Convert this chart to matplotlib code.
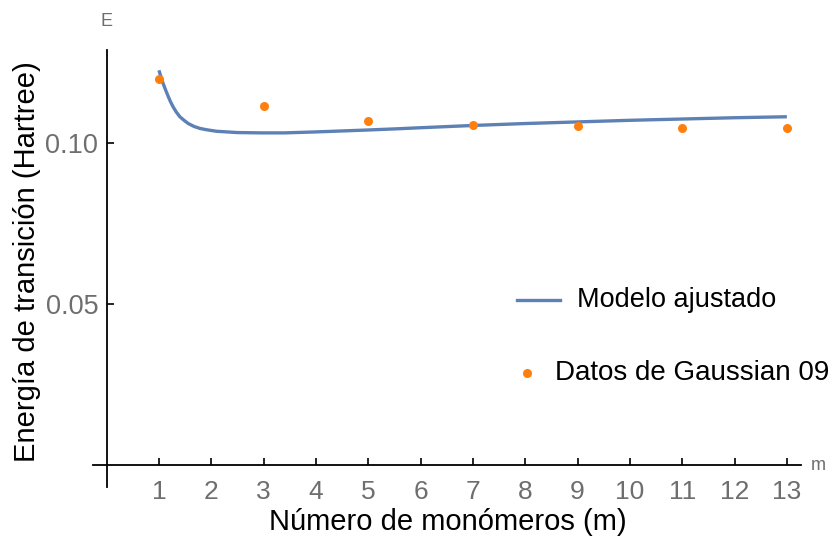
import numpy as np
import matplotlib.pyplot as plt
from matplotlib.lines import Line2D

plt.rcParams['font.family'] = ['Liberation Sans', 'DejaVu Sans']

# datos de Gaussian 09
m_datos = [1, 3, 5, 7, 9, 11, 13]
e_datos = [0.1197, 0.1114, 0.1068, 0.1055, 0.1050, 0.1044, 0.1044]

# modelo ajustado
m_modelo = [1.0, 1.04, 1.08, 1.13, 1.18, 1.22, 1.27, 1.33, 1.4, 1.48, 1.56,
            1.67, 1.78, 1.9, 2.1, 2.3, 2.5, 2.95, 3.4, 4.0, 5.0, 5.6, 6.0,
            7.0, 8.0, 9.0, 10.0, 11.0, 12.0, 13.0]
e_modelo = [0.1224, 0.1203, 0.1183, 0.1162, 0.1142, 0.1127, 0.1111, 0.1095,
            0.1080, 0.1069, 0.1059, 0.1050, 0.1044, 0.1040, 0.1035, 0.1033,
            0.1031, 0.1030, 0.1030, 0.1033, 0.1039, 0.1043, 0.1046, 0.1053,
            0.1059, 0.1064, 0.1069, 0.1073, 0.1077, 0.1080]

xticks = list(range(1, 14))
yticks = [0.05, 0.10]
ytick_labels = ["0.05", "0.10"]

W, H = 838, 540
azul = "#5E81B5"
naranja = "#FF7F0E"
gris = "#6E6E6E"

fig = plt.figure(figsize=(W / 100, H / 100), dpi=100)
ax = fig.add_axes([93 / W, 1 - 487 / H, (801 - 93) / W, (487 - 50) / H])

ax.plot(m_modelo, e_modelo, color=azul, lw=2.4, solid_capstyle='butt',
        solid_joinstyle='round', zorder=2)
ax.plot(m_datos, e_datos, 'o', color=naranja, ms=6.5, mec='none', zorder=3)

ax.set_xlim(-0.26, 13.27)
ax.set_ylim(-0.0068, 0.1287)

for s in ['top', 'right']:
    ax.spines[s].set_visible(False)
ax.spines['left'].set_position(('data', 0))
ax.spines['bottom'].set_position(('data', 0))
ax.spines['left'].set_linewidth(1.3)
ax.spines['bottom'].set_linewidth(1.3)

ax.set_xticks(xticks)
ax.set_xticklabels([str(t) for t in xticks])
ax.set_yticks(yticks)
ax.set_yticklabels(ytick_labels)
ax.tick_params(axis='x', direction='in', length=5, width=1.2, pad=11,
               labelsize=19, labelcolor=gris)
ax.tick_params(axis='y', direction='in', length=5, width=1.2, pad=6,
               labelsize=19.5, labelcolor=gris)

# etiquetas de ejes
fig.text(106 / W, 1 - 22 / H, "E", color=gris, fontsize=13, ha='center', va='center')
fig.text(811 / W, 1 - 466 / H, "m", color=gris, fontsize=13, ha='left', va='center')
fig.text(448 / W, 1 - 522 / H, "Número de monómeros (m)", fontsize=21,
         ha='center', va='center')
fig.text(27 / W, 1 - 262 / H, "Energía de transición (Hartree)", fontsize=21,
         rotation=90, ha='center', va='center')

# leyenda
fig.add_artist(Line2D([517 / W, 560 / W], [1 - 300 / H, 1 - 300 / H],
                      color=azul, lw=2.4, transform=fig.transFigure))
fig.text(577 / W, 1 - 300 / H, "Modelo ajustado", fontsize=19.5,
         ha='left', va='center')
fig.add_artist(Line2D([527 / W], [1 - 373 / H], marker='o', color=naranja,
                      ms=6.5, mec='none', transform=fig.transFigure))
fig.text(555 / W, 1 - 373 / H, "Datos de Gaussian 09", fontsize=20,
         ha='left', va='center')

fig.savefig("out.png", dpi=100)
